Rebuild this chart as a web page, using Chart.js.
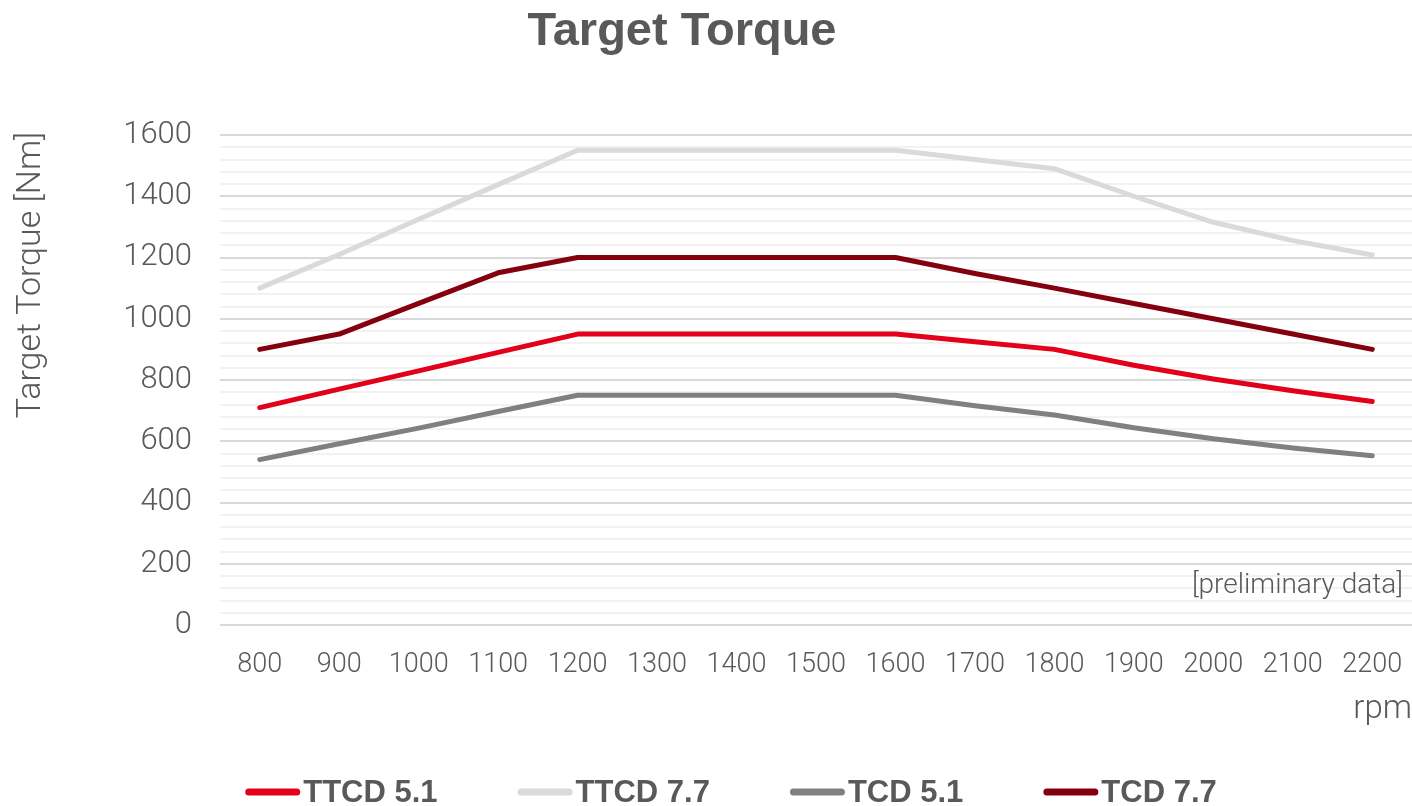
<!DOCTYPE html>
<html>
<head>
<meta charset="utf-8">
<script src="https://cdn.jsdelivr.net/npm/chart.js@4"></script>
<style>
  html, body { margin: 0; padding: 0; background: #fff; }
  #wrap { width: 1412px; height: 806px; position: relative; }
</style>
</head>
<body>
<div id="wrap"><canvas id="torque"></canvas></div>
<script>
const rpm = ['800','900','1000','1100','1200','1300','1400','1500','1600','1700','1800','1900','2000','2100','2200'];
const ttcd51 = [710, 770, 830, 890, 950, 950, 950, 950, 950, 925, 900, 848, 803, 765, 730];
const ttcd77 = [1100, 1210, 1325, 1438, 1550, 1550, 1550, 1550, 1550, 1520, 1490, 1400, 1315, 1255, 1208];
const tcd51 = [540, 592, 643, 697, 750, 750, 750, 750, 750, 716, 686, 644, 608, 578, 553];
const tcd77 = [900, 950, 1050, 1150, 1200, 1200, 1200, 1200, 1200, 1148, 1100, 1050, 1000, 950, 900];
const yTicks = [0, 200, 400, 600, 800, 1000, 1200, 1400, 1600];

const txt = '#595959';
const lightFont = "'Roboto', 'Liberation Sans', sans-serif";

// title, axis title, note and legend drawn on top of the canvas
const extraText = {
  id: 'extraText',
  afterDraw(chart) {
    const c = chart.ctx;
    c.save();
    c.fillStyle = txt;
    c.textAlign = 'center';
    c.textBaseline = 'middle';
    c.font = "bold 47px 'Liberation Sans', sans-serif";
    c.fillText('Target Torque', 682, 32);

    c.translate(31, 275);
    c.rotate(-Math.PI / 2);
    c.font = "300 34px " + lightFont;
    c.fillText('Target Torque [Nm]', 0, 0);
    c.restore();

    c.save();
    c.fillStyle = txt;
    c.textAlign = 'right';
    c.textBaseline = 'middle';
    c.font = "300 28px " + lightFont;
    c.fillText('[preliminary data]', 1403, 586);
    c.restore();

    // legend
    c.save();
    c.font = "bold 31px 'Liberation Sans', sans-serif";
    c.textBaseline = 'middle';
    c.textAlign = 'left';
    const sets = chart.data.datasets;
    const widths = sets.map(d => 55 + 3 + c.measureText(d.label).width);
    const total = widths.reduce((a, b) => a + b, 0) + 80 * (sets.length - 1);
    let x = 731 - total / 2;
    const y = 792;
    sets.forEach((d, i) => {
      c.strokeStyle = d.borderColor;
      c.lineWidth = 7;
      c.lineCap = 'round';
      c.beginPath();
      c.moveTo(x + 3.5, y);
      c.lineTo(x + 55 - 3.5, y);
      c.stroke();
      c.fillStyle = txt;
      c.fillText(d.label, x + 58, y + 1);
      x += widths[i] + 80;
    });
    c.restore();
  }
};

function mk(label, data, color) {
  return {
    label: label,
    data: data,
    borderColor: color,
    backgroundColor: color,
    borderWidth: 5,
    borderCapStyle: 'round',
    borderJoinStyle: 'round',
    pointRadius: 0,
    tension: 0
  };
}

new Chart(document.getElementById('torque'), {
  type: 'line',
  data: {
    labels: rpm,
    datasets: [
      mk('TTCD 5.1', ttcd51, '#e2001a'),
      mk('TTCD 7.7', ttcd77, '#dadada'),
      mk('TCD 5.1', tcd51, '#808080'),
      mk('TCD 7.7', tcd77, '#85000f')
    ]
  },
  options: {
    responsive: true,
    maintainAspectRatio: false,
    animation: false,
    layout: { padding: { top: 135, left: 0, right: 0, bottom: 0 } },
    plugins: {
      title: { display: false },
      tooltip: { enabled: false },
      legend: { display: false }
    },
    scales: {
      x: {
        offset: true,
        afterFit(s) {
          s.height = 181;
          s.paddingLeft = 0;
          s.paddingRight = 0;
        },
        grid: { display: false },
        border: { display: false },
        ticks: {
          color: txt,
          padding: 16,
          maxRotation: 0,
          autoSkip: false,
          font: { family: lightFont, size: 27, weight: 300 }
        },
        title: {
          display: true,
          text: 'rpm',
          align: 'end',
          color: txt,
          padding: { top: 6, bottom: 76 },
          font: { family: lightFont, size: 33, weight: 300 }
        }
      },
      y: {
        min: 0,
        max: 1600,
        border: { display: false },
        afterFit(s) { s.width = 220; },
        grid: {
          drawTicks: false,
          lineWidth: 2,
          color: (ctx) => yTicks.includes(ctx.tick.value) ? '#d9d9d9' : '#f2f2f2'
        },
        ticks: {
          stepSize: 40,
          autoSkip: false,
          padding: 28,
          color: txt,
          font: { family: lightFont, size: 31, weight: 300 },
          callback: (v) => yTicks.includes(v) ? String(v) : ''
        }
      }
    }
  },
  plugins: [extraText]
});
</script>
</body>
</html>
